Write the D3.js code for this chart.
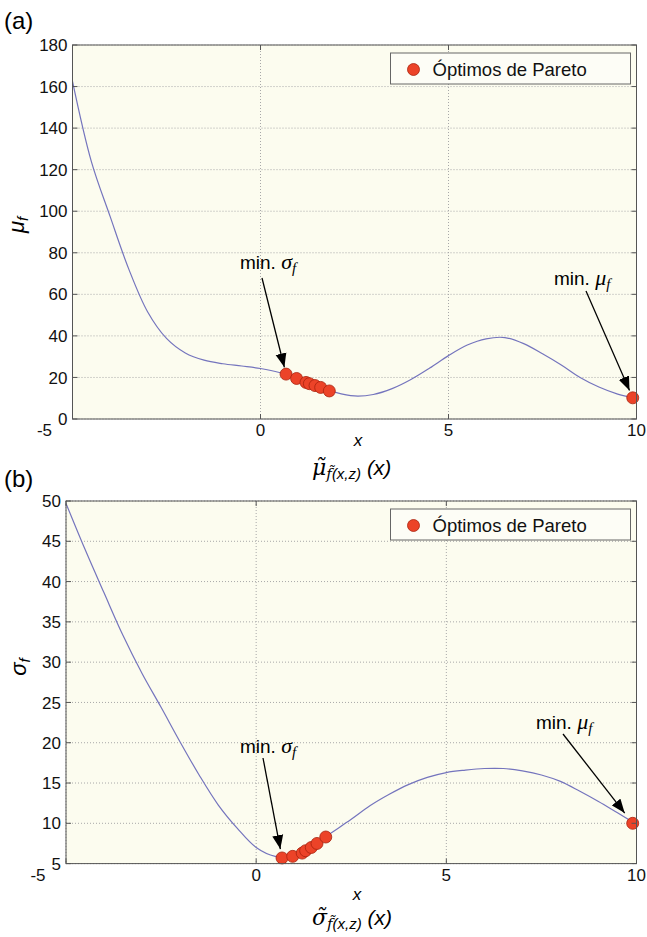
<!DOCTYPE html>
<html>
<head>
<meta charset="utf-8">
<script src="https://cdn.jsdelivr.net/npm/d3@7"></script>
<style>
  body { margin: 0; background: #fff; }
  text { font-family: "Liberation Sans", Arial, Helvetica, sans-serif; }
</style>
</head>
<body>
<div id="chart"></div>
<script>
// curve sample points (x) and the two objective curves
const xs = [-5,-4.5,-4,-3.5,-3,-2.5,-2,-1.5,-1,-0.5,0,0.5,1,1.5,2,2.5,3,3.5,4,4.5,5,5.5,6,6.5,7,7.5,8,8.5,9,9.5,10];
const muValues = [162.5,124,97.5,72,51.5,38.8,31.8,28.3,26.6,25.5,24.3,22.4,19.4,16.0,12.8,11.1,11.8,14.6,19.0,24.5,30.5,35.6,38.6,39.2,36.3,31.4,26.0,20.0,15.4,12.0,9.8];
const sigmaValues = [49.7,44.0,38.6,33.3,28.6,24.4,20.1,16.0,12.3,9.4,7.0,5.9,5.9,7.3,8.9,10.5,12.2,13.6,14.8,15.7,16.3,16.6,16.8,16.8,16.5,16.0,15.2,14.0,12.7,11.3,9.9];

// Pareto optima
const paretoX = [0.68,0.96,1.21,1.30,1.45,1.60,1.83,9.9];
const paretoMu = [21.6,19.5,17.6,17.0,16.1,15.2,13.5,10.2];
const paretoSigma = [5.7,5.9,6.3,6.6,7.0,7.5,8.3,10.0];

// ticks
const xTicks = [-5,0,5,10];
const muTicks = [0,20,40,60,80,100,120,140,160,180];
const sigmaTicks = [5,10,15,20,25,30,35,40,45,50];

const legendLabel = "Óptimos de Pareto";

const W = 647, H = 937;
const svg = d3.select("#chart").append("svg")
    .attr("width", W).attr("height", H);

// arrowhead
svg.append("defs").append("marker")
    .attr("id", "arrow")
    .attr("viewBox", "0 -6 14 12")
    .attr("refX", 14).attr("refY", 0)
    .attr("markerWidth", 14).attr("markerHeight", 12)
    .attr("markerUnits", "userSpaceOnUse")
    .attr("orient", "auto")
  .append("path")
    .attr("d", "M0,-5.5L14,0L0,5.5Z")
    .attr("fill", "#000");

function drawPanel(cfg) {
  const x = d3.scaleLinear().domain([-5, 10]).range([cfg.left, cfg.right]);
  const y = d3.scaleLinear().domain(cfg.yDomain).range([cfg.bottom, cfg.top]);
  const g = svg.append("g");

  g.append("rect")
    .attr("x", cfg.left).attr("y", cfg.top)
    .attr("width", cfg.right - cfg.left).attr("height", cfg.bottom - cfg.top)
    .attr("fill", "#fcfcef");

  // dotted grid
  g.append("g").selectAll("line").data(xTicks).join("line")
    .attr("x1", d => x(d)).attr("x2", d => x(d))
    .attr("y1", cfg.top).attr("y2", cfg.bottom)
    .attr("stroke", "#a8a8a8").attr("stroke-width", 1)
    .attr("stroke-dasharray", "1,2");
  g.append("g").selectAll("line").data(cfg.yTicks).join("line")
    .attr("x1", cfg.left).attr("x2", cfg.right)
    .attr("y1", d => y(d)).attr("y2", d => y(d))
    .attr("stroke", "#a8a8a8").attr("stroke-width", 1)
    .attr("stroke-dasharray", "1,2");

  // curve
  const line = d3.line()
    .x((d, i) => x(xs[i]))
    .y(d => y(d))
    .curve(d3.curveCatmullRom.alpha(0.5));
  g.append("path")
    .datum(cfg.values)
    .attr("d", line)
    .attr("fill", "none")
    .attr("stroke", "#7474bd")
    .attr("stroke-width", 1.2);

  // Pareto points
  g.append("g").selectAll("circle").data(cfg.pareto).join("circle")
    .attr("cx", (d, i) => x(paretoX[i]))
    .attr("cy", d => y(d))
    .attr("r", 6)
    .attr("fill", "#ec4328")
    .attr("stroke", "#a8220e")
    .attr("stroke-width", 0.8);

  // frame with inside ticks (box on)
  g.append("rect")
    .attr("x", cfg.left).attr("y", cfg.top)
    .attr("width", cfg.right - cfg.left).attr("height", cfg.bottom - cfg.top)
    .attr("fill", "none").attr("stroke", "#555").attr("stroke-width", 1);
  const tk = 5;
  const ticks = g.append("g").attr("stroke", "#555").attr("stroke-width", 1);
  xTicks.forEach(t => {
    ticks.append("line").attr("x1", x(t)).attr("x2", x(t)).attr("y1", cfg.bottom).attr("y2", cfg.bottom - tk);
    ticks.append("line").attr("x1", x(t)).attr("x2", x(t)).attr("y1", cfg.top).attr("y2", cfg.top + tk);
  });
  cfg.yTicks.forEach(t => {
    ticks.append("line").attr("x1", cfg.left).attr("x2", cfg.left + tk).attr("y1", y(t)).attr("y2", y(t));
    ticks.append("line").attr("x1", cfg.right).attr("x2", cfg.right - tk).attr("y1", y(t)).attr("y2", y(t));
  });

  // tick labels (first x label sits left of the corner, as in the figure)
  g.append("g").selectAll("text").data(xTicks).join("text")
    .attr("x", (d, i) => i === 0 ? x(d) - 28 : x(d))
    .attr("y", cfg.bottom + 17)
    .attr("text-anchor", "middle")
    .attr("font-size", 17).attr("fill", "#111")
    .text(d => d);
  g.append("g").selectAll("text").data(cfg.yTicks).join("text")
    .attr("x", cfg.left - 5).attr("y", d => y(d))
    .attr("dy", "0.36em")
    .attr("text-anchor", "end")
    .attr("font-size", 17).attr("fill", "#111")
    .text(d => d);

  // panel letter
  svg.append("text")
    .attr("x", 4).attr("y", cfg.letterY)
    .attr("font-size", 24)
    .text(cfg.letter);

  // y label (rotated)
  const yl = svg.append("text")
    .attr("transform", `translate(${cfg.yLabelX}, ${cfg.yLabelY}) rotate(-90)`)
    .attr("text-anchor", "middle")
    .attr("font-family", "'Liberation Serif', 'DejaVu Serif', serif")
    .attr("font-style", "italic");
  yl.append("tspan").attr("font-size", 22).text(cfg.greek);
  yl.append("tspan").attr("font-size", 15).attr("dy", 4).text("f");

  // x label
  svg.append("text")
    .attr("x", cfg.xLabelX).attr("y", cfg.xLabelY)
    .attr("text-anchor", "middle")
    .attr("font-size", 17).attr("font-style", "italic")
    .text("x");

  // bottom label: ~greek_{~f(x,z)} (x)
  const bl = svg.append("text")
    .attr("x", 312).attr("y", cfg.bottomLabelY)
    .attr("font-style", "italic");
  bl.append("tspan").attr("font-size", 22)
    .attr("font-family", "'DejaVu Serif', serif")
    .text(cfg.greek + "\u0303");
  bl.append("tspan").attr("font-size", 15).attr("dy", 4)
    .attr("font-family", "'DejaVu Serif', serif")
    .text("f\u0303");
  bl.append("tspan").attr("font-size", 15).text("(x,z)");
  bl.append("tspan").attr("font-size", 21).attr("dy", -4).text(" (x)");

  // legend
  const lg = g.append("g");
  lg.append("rect")
    .attr("x", cfg.right - 246).attr("y", cfg.top + 8)
    .attr("width", 240).attr("height", 31)
    .attr("fill", "#fdfdf6").attr("stroke", "#666").attr("stroke-width", 1);
  lg.append("circle")
    .attr("cx", cfg.right - 223).attr("cy", cfg.top + 24.5)
    .attr("r", 6).attr("fill", "#ec4328").attr("stroke", "#a8220e").attr("stroke-width", 0.8);
  lg.append("text")
    .attr("x", cfg.right - 204).attr("y", cfg.top + 31)
    .attr("font-size", 18.5).attr("fill", "#111")
    .text(legendLabel);

  // annotations
  cfg.notes.forEach(n => {
    const px = x(paretoX[n.idx]), py = y(cfg.pareto[n.idx]);
    const dx = n.sx - px, dy = n.sy - py, len = Math.hypot(dx, dy);
    g.append("line")
      .attr("x1", n.sx).attr("y1", n.sy)
      .attr("x2", px + dx / len * n.gap).attr("y2", py + dy / len * n.gap)
      .attr("stroke", "#000").attr("stroke-width", 1.3)
      .attr("marker-end", "url(#arrow)");
    const t = g.append("text").attr("x", n.tx).attr("y", n.ty).attr("font-size", 19);
    t.append("tspan").text("min. ");
    t.append("tspan").attr("font-family", "'Liberation Serif', 'DejaVu Serif', serif")
      .attr("font-style", "italic").attr("font-size", 22).text(n.greek);
    t.append("tspan").attr("font-family", "'Liberation Serif', 'DejaVu Serif', serif")
      .attr("font-style", "italic").attr("font-size", 15).attr("dy", 4).text("f");
  });
}

drawPanel({
  letter: "(a)", letterY: 29,
  left: 72.5, right: 636.5, top: 45, bottom: 419,
  yDomain: [0, 180], yTicks: muTicks,
  values: muValues, pareto: paretoMu,
  greek: "μ", yLabelX: 24, yLabelY: 225,
  xLabelX: 358, xLabelY: 446, bottomLabelY: 475,
  notes: [
    {idx: 0, tx: 240, ty: 269, sx: 262, sy: 278, gap: 7, greek: "σ"},
    {idx: 7, tx: 554, ty: 285, sx: 586, sy: 291, gap: 8, greek: "μ"}
  ]
});

drawPanel({
  letter: "(b)", letterY: 487,
  left: 66, right: 636.5, top: 501, bottom: 863.6,
  yDomain: [5, 50], yTicks: sigmaTicks,
  values: sigmaValues, pareto: paretoSigma,
  greek: "σ", yLabelX: 26, yLabelY: 667,
  xLabelX: 357, xLabelY: 900, bottomLabelY: 925,
  notes: [
    {idx: 0, tx: 240, ty: 753, sx: 263, sy: 758, gap: 9, greek: "σ"},
    {idx: 7, tx: 536, ty: 729, sx: 563, sy: 734, gap: 13, greek: "μ"}
  ]
});
</script>
</body>
</html>
